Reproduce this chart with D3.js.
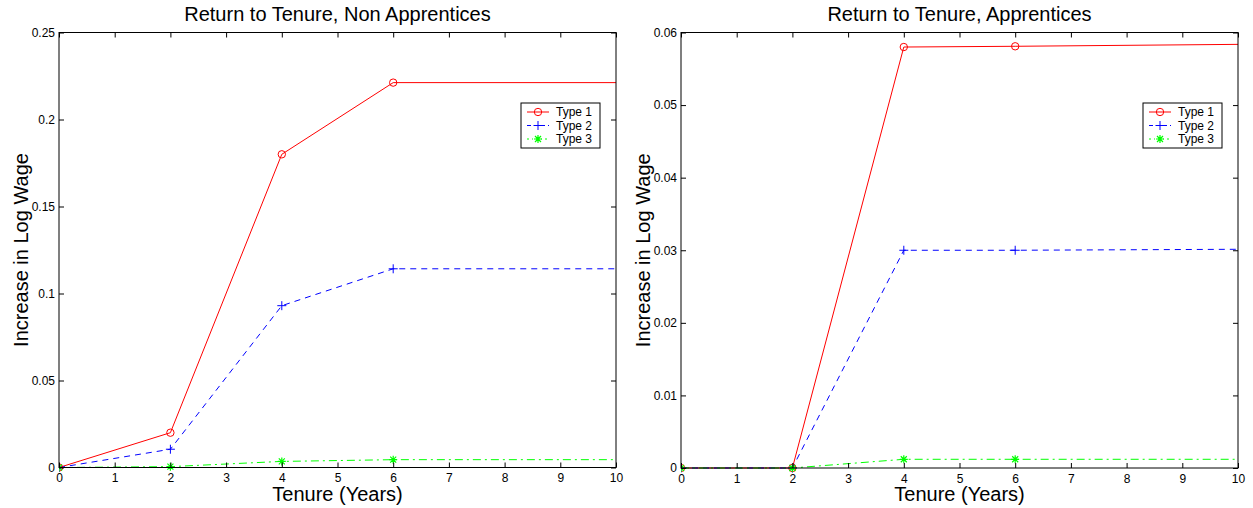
<!DOCTYPE html>
<html><head><meta charset="utf-8">
<script src="https://cdn.jsdelivr.net/npm/d3@7"></script>
<style>body{margin:0;background:#fff}svg{display:block}text{font-family:"Liberation Sans",Arial,sans-serif}</style>
</head><body>
<svg id="c" width="1253" height="508"></svg>
<script>
const tenure = [0, 2, 4, 6, 12];
const xTicks = [0,1,2,3,4,5,6,7,8,9,10];
const seriesNames = ["Type 1", "Type 2", "Type 3"];
const nonAppType1 = [0, 0.0200, 0.1800, 0.2212, 0.2212];
const nonAppType2 = [0, 0.0105, 0.0930, 0.1142, 0.1142];
const nonAppType3 = [0, 0.0005, 0.0035, 0.0045, 0.0045];
const appType1 = [0, 0, 0.0580, 0.0581, 0.0585];
const appType2 = [0, 0, 0.0300, 0.0300, 0.0302];
const appType3 = [0, 0, 0.0012, 0.0012, 0.0012];
const nonAppYTicks = [0, 0.05, 0.1, 0.15, 0.2, 0.25];
const appYTicks = [0, 0.01, 0.02, 0.03, 0.04, 0.05, 0.06];
const titles = ["Return to Tenure, Non Apprentices", "Return to Tenure, Apprentices"];

const styles = [
  {color:"#ff0000", dash:null, marker:"o"},
  {color:"#0000ff", dash:"6,5", marker:"+"},
  {color:"#00ff00", dash:"8,4,2,4", marker:"*"}
];

const svg = d3.select("#c");

function panel(idx, x0, x1, yTop, yBot, yMax, yTicks, series, legendX) {
  const g = svg.append("g");
  const x = d3.scaleLinear().domain([0, 10]).range([x0, x1]);
  const y = d3.scaleLinear().domain([0, yMax]).range([yBot, yTop]);
  const clipId = "clip" + idx;
  g.append("clipPath").attr("id", clipId).append("rect")
    .attr("x", x0).attr("y", yTop - 6).attr("width", x1 - x0).attr("height", yBot - yTop + 12);

  const plot = g.append("g").attr("clip-path", `url(#${clipId})`);
  const line = d3.line().x((d,i) => x(tenure[i])).y(d => y(d));
  series.forEach((vals, s) => {
    const st = styles[s];
    plot.append("path").attr("d", line(vals)).attr("fill", "none")
      .attr("stroke", st.color).attr("stroke-width", 1)
      .attr("stroke-dasharray", st.dash);
  });
  series.forEach((vals, s) => {
    vals.forEach((v, i) => {
      if (tenure[i] > 10) return;
      drawMarker(plot, styles[s], x(tenure[i]), y(v));
    });
  });

  g.append("rect").attr("x", x0).attr("y", yTop).attr("width", x1 - x0).attr("height", yBot - yTop)
    .attr("fill", "none").attr("stroke", "#000").attr("stroke-width", 1);

  const xb = g.append("g").attr("transform", `translate(0,${yBot})`)
    .call(d3.axisBottom(x).tickValues(xTicks).tickSize(-5).tickPadding(6).tickFormat(d3.format("d")));
  const xt = g.append("g").attr("transform", `translate(0,${yTop})`)
    .call(d3.axisTop(x).tickValues(xTicks).tickSize(-5).tickFormat(""));
  const yl = g.append("g").attr("transform", `translate(${x0},0)`)
    .call(d3.axisLeft(y).tickValues(yTicks).tickSize(-5).tickPadding(4).tickFormat(d => d === 0 ? "0" : String(+d.toFixed(3))));
  const yr = g.append("g").attr("transform", `translate(${x1},0)`)
    .call(d3.axisRight(y).tickValues(yTicks).tickSize(-5).tickFormat(""));
  [xb, xt, yl, yr].forEach(a => {
    a.select(".domain").remove();
    a.selectAll("line").attr("stroke", "#000");
    a.selectAll("text").attr("font-size", 12).attr("fill", "#000")
      .attr("font-family", "Liberation Sans, Arial, sans-serif");
  });

  const cx = (x0 + x1) / 2;
  g.append("text").attr("x", cx).attr("y", 21).attr("text-anchor", "middle")
    .attr("font-size", 20).text(titles[idx]);
  g.append("text").attr("x", cx).attr("y", 501).attr("text-anchor", "middle")
    .attr("font-size", 20).text("Tenure (Years)");
  g.append("text").attr("transform", `translate(${x0 - 31},${(yTop + yBot) / 2}) rotate(-90)`)
    .attr("text-anchor", "middle").attr("font-size", 20).text("Increase in Log Wage");

  const lg = g.append("g").attr("transform", `translate(${legendX},103)`);
  lg.append("rect").attr("width", 79).attr("height", 45).attr("fill", "#fff")
    .attr("stroke", "#000").attr("stroke-width", 1);
  seriesNames.forEach((n, s) => {
    const yy = 9 + s * 13.5;
    const st = styles[s];
    lg.append("line").attr("x1", 6).attr("x2", 28).attr("y1", yy).attr("y2", yy)
      .attr("stroke", st.color).attr("stroke-dasharray", st.dash ? (s === 1 ? "4,3" : "2,3,1,3") : null);
    drawMarker(lg, st, 17, yy);
    lg.append("text").attr("x", 35).attr("y", yy + 4).attr("font-size", 12).text(n);
  });
}

function drawMarker(sel, st, cx, cy) {
  const c = st.color;
  if (st.marker === "o") {
    sel.append("circle").attr("cx", cx).attr("cy", cy).attr("r", 3.7)
      .attr("fill", "none").attr("stroke", c).attr("stroke-width", 1);
  } else if (st.marker === "+") {
    const r = 4.5;
    sel.append("path").attr("d", `M${cx - r},${cy}H${cx + r}M${cx},${cy - r}V${cy + r}`)
      .attr("stroke", c).attr("stroke-width", 1).attr("fill", "none");
  } else {
    const r = 4, d = 3;
    sel.append("path")
      .attr("d", `M${cx - r},${cy}H${cx + r}M${cx},${cy - r}V${cy + r}M${cx - d},${cy - d}L${cx + d},${cy + d}M${cx - d},${cy + d}L${cx + d},${cy - d}`)
      .attr("stroke", c).attr("stroke-width", 1.2).attr("fill", "none");
  }
}

panel(0, 59, 616, 32.5, 467.5, 0.25, nonAppYTicks,
  [nonAppType1, nonAppType2, nonAppType3], 521);
panel(1, 681, 1238, 32.5, 468, 0.06, appYTicks,
  [appType1, appType2, appType3], 1143);
</script>
</body></html>
